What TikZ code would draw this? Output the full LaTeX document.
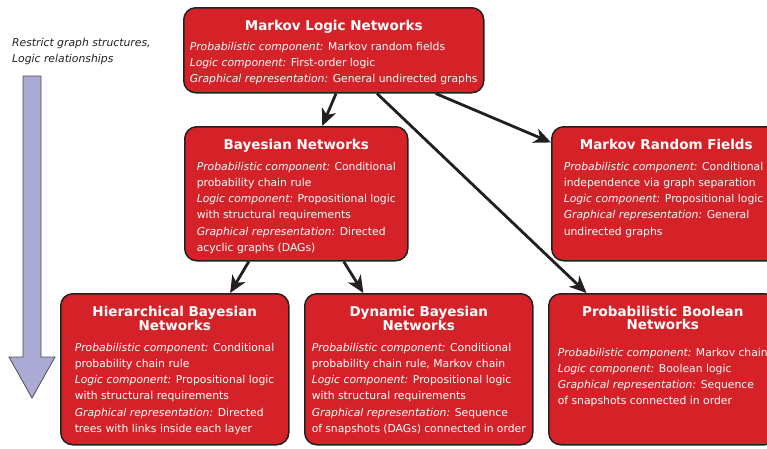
\documentclass[tikz,border=0pt]{standalone}
\usepackage{fontspec}
\setmainfont{DejaVu Sans}
\usepackage{tikz}
\usetikzlibrary{positioning}
\usetikzlibrary{arrows.meta}

\definecolor{boxred}{HTML}{D52228}
\definecolor{linedark}{HTML}{231F20}
\definecolor{lavender}{HTML}{AAAAD4}

\newcommand{\nettitle}{\fontsize{13.5}{13}\selectfont\bfseries}
\newcommand{\netbody}{\fontsize{10.8}{16.2}\selectfont}
% box content: height, width, title, body
\newcommand{\netbox}[5][5pt]{\parbox[t][#2][t]{#3}{{\centering\nettitle #4\par}
  \vspace{#1}\raggedright\netbody #5}}

\begin{document}
\begin{tikzpicture}[x=1pt,y=-1pt,>={Stealth[length=17pt,width=15pt,inset=5pt]},
  net/.style={draw=linedark,fill=boxred,line width=1.5pt,rounded corners=12pt,
    text=white,anchor=north west,inner ysep=12pt},
  link/.style={->,color=linedark,line width=2.8pt}]
  \useasboundingbox (0,0) rectangle (767,448);

  % big arrow on the left
  \filldraw[fill=lavender,draw=linedark!80,line width=0.8pt]
    (23,76) -- (41,76) -- (41,357) -- (55,357) -- (32,398) -- (9,357) -- (23,357) -- cycle;
  \node[anchor=north west,inner sep=0pt,align=left,text=linedark,
    font=\fontsize{10.8}{16}\selectfont\itshape] (note) at (12,38)
    {Restrict graph structures,\\Logic relationships};

  \node[net,inner xsep=6pt] (mln) at (183,7)
    {\netbox[4pt]{61pt}{288pt}{Markov Logic Networks}{%
      \emph{Probabilistic component:} Markov random fields\\
      \emph{Logic component:} First-order logic\\
      \emph{Graphical representation:} General undirected graphs}};
  \node[net,inner xsep=12pt] (bn) at (184,126)
    {\netbox{110pt}{199pt}{Bayesian Networks}{%
      \emph{Probabilistic component:} Conditional\\
      probability chain rule\\
      \emph{Logic component:} Propositional logic\\
      with structural requirements\\
      \emph{Graphical representation:} Directed\\
      acyclic graphs (DAGs)}};
  \node[net,inner xsep=12pt] (mrf) at (551,126)
    {\netbox{110pt}{205pt}{Markov Random Fields}{%
      \emph{Probabilistic component:} Conditional\\
      independence via graph separation\\
      \emph{Logic component:} Propositional logic\\
      \emph{Graphical representation:} General\\
      undirected graphs}};
  \node[net,inner xsep=14pt] (hbn) at (60,293)
    {\netbox{127pt}{200pt}{Hierarchical Bayesian\\Networks}{%
      \emph{Probabilistic component:} Conditional\\
      probability chain rule\\
      \emph{Logic component:} Propositional logic\\
      with structural requirements\\
      \emph{Graphical representation:} Directed\\
      trees with links inside each layer}};
  \node[net,inner xsep=7pt] (dbn) at (304,293)
    {\netbox{127pt}{214pt}{Dynamic Bayesian\\Networks}{%
      \emph{Probabilistic component:} Conditional\\
      probability chain rule, Markov chain\\
      \emph{Logic component:} Propositional logic\\
      with structural requirements\\
      \emph{Graphical representation:} Sequence\\
      of snapshots (DAGs) connected in order}};
  \node[net,inner xsep=9pt] (pbn) at (548,293)
    {\netbox[11pt]{127pt}{210pt}{Probabilistic Boolean\\Networks}{%
      \emph{Probabilistic component:} Markov chain\\
      \emph{Logic component:} Boolean logic\\
      \emph{Graphical representation:} Sequence\\
      of snapshots connected in order}};

\path[link] (mln.-87) edge (bn.69)
	  (mln.-23) edge (mrf.156)
	  (mln.-45) edge (pbn.135.6)
	  (bn.-125) edge (hbn.54)
	  (bn.-55) edge (dbn.126);
\end{tikzpicture}
\end{document}
